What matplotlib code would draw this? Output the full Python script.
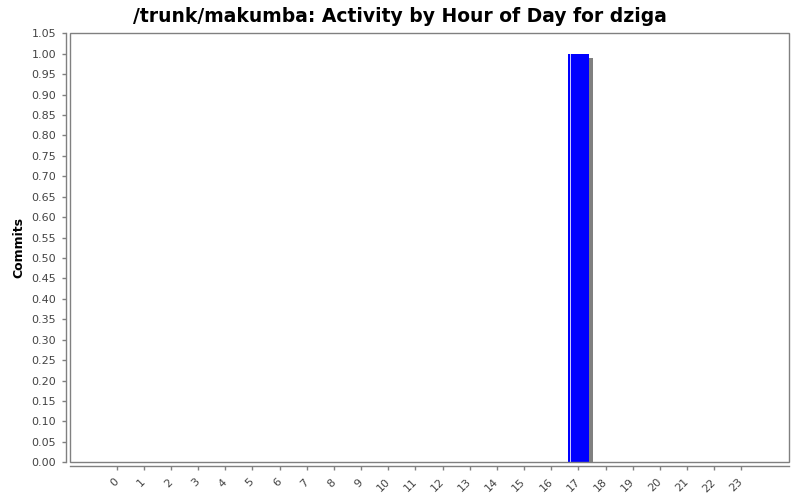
import matplotlib
matplotlib.use("Agg")
import matplotlib.pyplot as plt
import matplotlib.transforms as mtransforms
from matplotlib.patches import Rectangle

hours = list(range(24))
commits = [0, 0, 0, 0, 0, 0, 0, 0, 0, 0, 0, 0, 0, 0, 0, 0, 0, 1, 0, 0, 0, 0, 0, 0]
hour_labels = [str(h) for h in hours]
y_ticks = [i * 0.05 for i in range(22)]

title = "/trunk/makumba: Activity by Hour of Day for dziga"

W, H = 800, 500
fig = plt.figure(figsize=(8, 5), dpi=100)
L, R, T, B = 70, 788.7, 33.3, 462.3
ax = fig.add_axes([L / W, 1 - B / H, (R - L) / W, (B - T) / H])

gray = "#808080"
txt = "#444444"

ax.set_xlim(-1.72, 24.745)
ax.set_ylim(0, 1.05)

bar_w = 0.78
# shadow
shadow_tr = ax.transData + mtransforms.ScaledTranslation(4 / 100, -4 / 100, fig.dpi_scale_trans)
ax.bar(hours, commits, width=bar_w, color="#808080", transform=shadow_tr, zorder=2, linewidth=0)
ax.bar(hours, commits, width=bar_w, color="#0000ff", zorder=3, linewidth=0)
# highlight line near left edge of bars
hl_tr = ax.transData + mtransforms.ScaledTranslation(2 / 100, 0, fig.dpi_scale_trans)
ax.bar([h - bar_w / 2 for h in hours], commits, width=0.06, align="edge",
       color="#c8c8ff", transform=hl_tr, zorder=4, linewidth=0)

# plot frame
ax.add_patch(Rectangle((0, 0), 1, 1, transform=ax.transAxes, fill=False,
                       edgecolor=gray, linewidth=1, zorder=5, clip_on=False))
for s in ["top", "right"]:
    ax.spines[s].set_visible(False)
for s in ["left", "bottom"]:
    ax.spines[s].set_position(("outward", 3))
    ax.spines[s].set_color(gray)
    ax.spines[s].set_linewidth(1)

ax.set_yticks(y_ticks)
ax.set_yticklabels([f"{v:.2f}" for v in y_ticks])
ax.set_xticks(hours)
ax.set_xticklabels(hour_labels, rotation=45, ha="right", va="center", rotation_mode="anchor")
ax.tick_params(axis="both", colors=gray, labelcolor=txt, labelsize=8, length=3, width=1)
ax.tick_params(axis="x", pad=7)
ax.tick_params(axis="y", pad=4)

ax.set_ylabel("Commits", fontsize=9, fontweight="bold", color="#000000", labelpad=4)
fig.text(0.5, 1 - 16 / H, title, ha="center", va="center", fontsize=13.5, fontweight="bold")

fig.savefig("out.png", dpi=100)
